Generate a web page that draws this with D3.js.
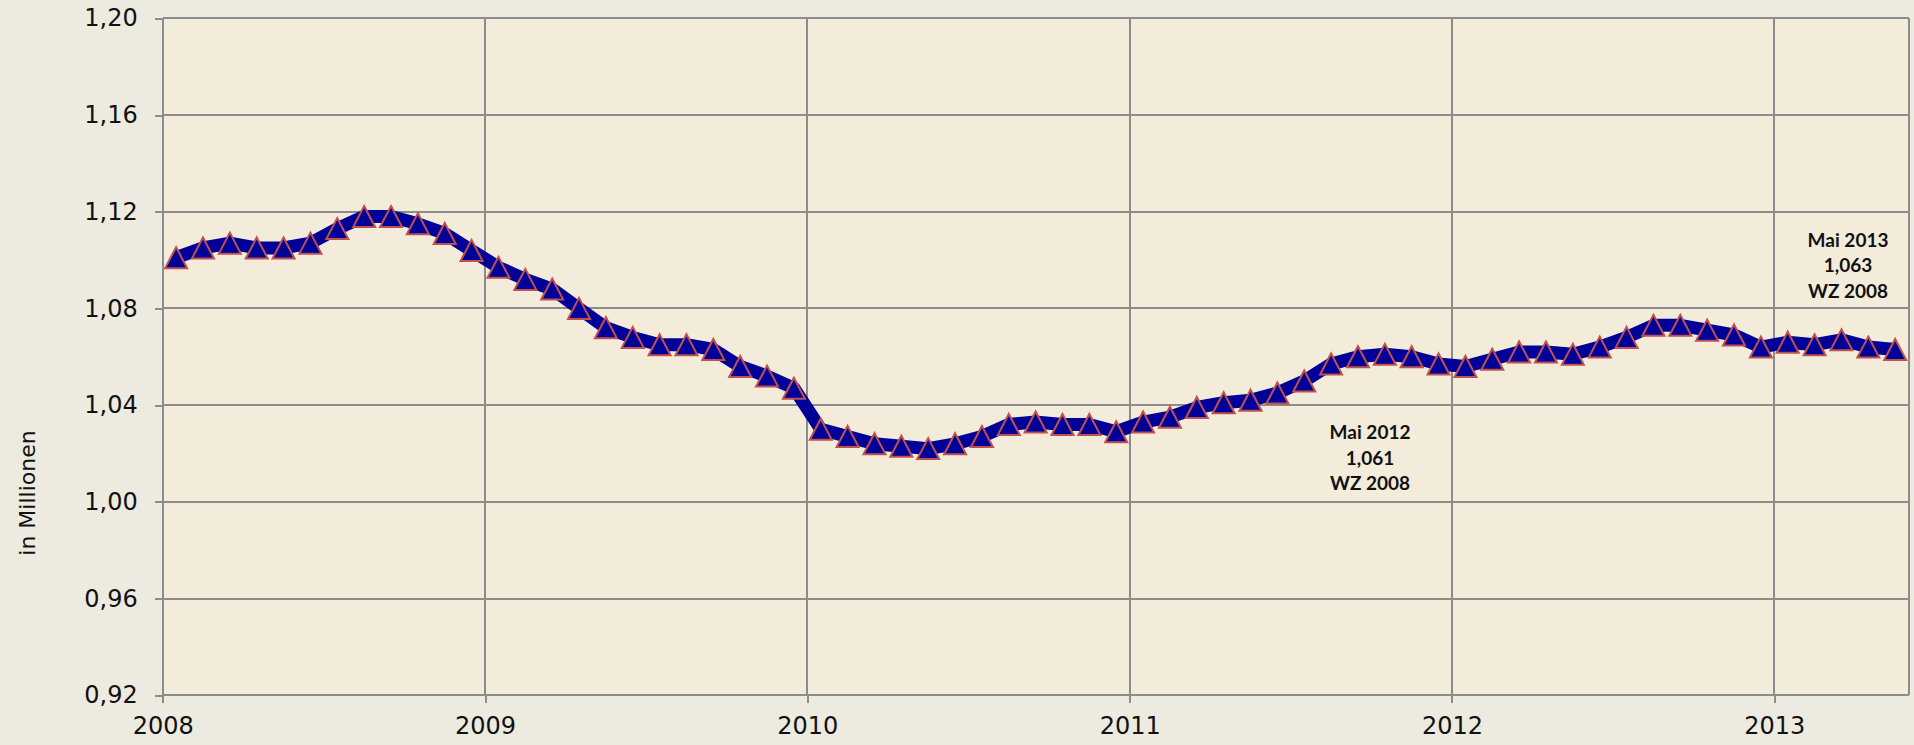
<!DOCTYPE html>
<meta charset="utf-8">
<style>
body { margin: 0; background: #edeae0; }
svg { display: block; }
.axis path { display: none; }
.axis line { stroke: #8c8c8c; stroke-width: 2; shape-rendering: crispEdges; }
.axis text { font: 24px "DejaVu Sans", sans-serif; fill: #111; }
.grid line { stroke: #8c8c8c; stroke-width: 2; shape-rendering: crispEdges; }
.note { font: bold 19px Lato, sans-serif; fill: #111; }
.ytitle { font: 22px "DejaVu Sans", sans-serif; fill: #111; }
</style>
<body>
<script src="https://cdnjs.cloudflare.com/ajax/libs/d3/7.8.5/d3.min.js"></script>
<script>

// Monatswerte (in Millionen), Januar bis Dezember
var values2008 = [1.101, 1.105, 1.107, 1.105, 1.105, 1.107, 1.113, 1.118, 1.118, 1.115, 1.111, 1.104];
var values2009 = [1.097, 1.092, 1.088, 1.080, 1.072, 1.068, 1.065, 1.065, 1.063, 1.056, 1.052, 1.047];
var values2010 = [1.030, 1.027, 1.024, 1.023, 1.022, 1.024, 1.027, 1.032, 1.033, 1.032, 1.032, 1.029];
var values2011 = [1.033, 1.035, 1.039, 1.041, 1.042, 1.045, 1.050, 1.057, 1.060, 1.061, 1.060, 1.057];
var values2012 = [1.056, 1.059, 1.062, 1.062, 1.061, 1.064, 1.068, 1.073, 1.073, 1.071, 1.069, 1.064];
var values2013 = [1.066, 1.065, 1.067, 1.064, 1.063];

var years = [2008, 2009, 2010, 2011, 2012, 2013];
var yTicks = [0.92, 0.96, 1.00, 1.04, 1.08, 1.12, 1.16, 1.20];

var notes = [
  { month: 52, lines: ["Mai 2012", "1,061", "WZ 2008"] },
  { month: 64, lines: ["Mai 2013", "1,063", "WZ 2008"] }
];

var values = [].concat(values2008, values2009, values2010, values2011, values2012, values2013);

var width = 1914,
    height = 745,
    margin = {top: 18.3, right: 5.4, bottom: 49.8, left: 162.7};

var de = d3.formatLocale({decimal: ",", thousands: ".", grouping: [3], currency: ["", " €"]});

var x = d3.scaleLinear()
    .domain([2008, 2008 + values.length / 12])
    .range([margin.left, width - margin.right]);

var y = d3.scaleLinear()
    .domain([0.92, 1.20])
    .range([height - margin.bottom, margin.top]);

function mx(i) { return x(2008 + (i + 0.5) / 12); }

var svg = d3.select("body").append("svg")
    .attr("width", width)
    .attr("height", height);

svg.append("rect")
    .attr("x", x.range()[0])
    .attr("y", y.range()[1])
    .attr("width", x.range()[1] - x.range()[0])
    .attr("height", y.range()[0] - y.range()[1])
    .style("fill", "#f3ecdb");

// Gitternetz
var grid = svg.append("g").attr("class", "grid");

grid.selectAll(".h")
    .data(yTicks)
  .enter().append("line")
    .attr("x1", x.range()[0])
    .attr("x2", x.range()[1])
    .attr("y1", function(d) { return y(d); })
    .attr("y2", function(d) { return y(d); });

grid.selectAll(".v")
    .data(years.concat([x.domain()[1]]))
  .enter().append("line")
    .attr("x1", function(d) { return x(d); })
    .attr("x2", function(d) { return x(d); })
    .attr("y1", y.range()[0])
    .attr("y2", y.range()[1]);

svg.append("g")
    .attr("class", "axis")
    .attr("transform", "translate(" + margin.left + ",0)")
    .call(d3.axisLeft(y).tickValues(yTicks).tickSize(8).tickPadding(17).tickFormat(de.format(".2f")));

svg.append("g")
    .attr("class", "axis")
    .attr("transform", "translate(0," + y.range()[0] + ")")
    .call(d3.axisBottom(x).tickValues(years).tickSize(8).tickPadding(14).tickFormat(d3.format("d")));

svg.append("text")
    .attr("class", "ytitle")
    .attr("transform", "translate(35,493) rotate(-90)")
    .attr("text-anchor", "middle")
    .text("in Millionen");

// Linie
var line = d3.line()
    .x(function(d, i) { return mx(i); })
    .y(function(d) { return y(d); });

svg.append("path")
    .datum(values)
    .attr("d", line)
    .style("fill", "none")
    .style("stroke", "#000099")
    .style("stroke-width", 13)
    .style("stroke-linejoin", "round");

var tw = 22, th = 21;
svg.selectAll(".marker")
    .data(values)
  .enter().append("path")
    .attr("class", "marker")
    .attr("transform", function(d, i) { return "translate(" + mx(i) + "," + y(d) + ")"; })
    .attr("d", "M0," + (-th / 2) + "L" + (tw / 2) + "," + (th / 2) + "L" + (-tw / 2) + "," + (th / 2) + "Z")
    .style("fill", "#000099")
    .style("stroke", "#c0504d")
    .style("stroke-width", 2);

// Beschriftungen
var noteY = [432.7, 240];
notes.forEach(function(n, k) {
  svg.append("text")
      .attr("class", "note")
      .attr("text-anchor", "middle")
      .attr("x", k === 0 ? 1370 : 1848)
      .attr("y", noteY[k])
      .attr("dy", "0.35em")
    .selectAll("tspan")
      .data(n.lines)
    .enter().append("tspan")
      .attr("x", k === 0 ? 1370 : 1848)
      .attr("dy", function(d, j) { return j === 0 ? "0.35em" : "25.5"; })
      .text(function(d) { return d; });
});

</script>
